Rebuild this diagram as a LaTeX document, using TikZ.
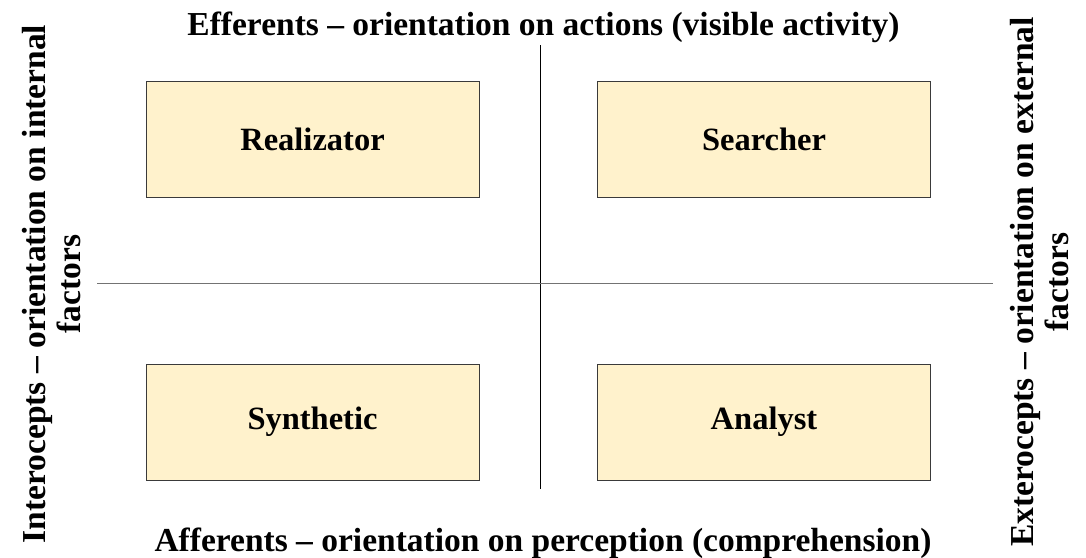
\documentclass[tikz,border=0pt]{standalone}
\usepackage{fontspec}
\setmainfont{Liberation Serif}
\usetikzlibrary{positioning}

\definecolor{boxfill}{HTML}{FFF2CC}
\definecolor{boxline}{HTML}{3A3A3A}

\begin{document}
\begin{tikzpicture}[
x=1pt, y=-1pt,
every node/.style={font=\bfseries\fontsize{33.5}{35}\selectfont},
box/.style={draw=boxline, fill=boxfill, line width=1pt, minimum width=333pt, minimum height=116pt, inner sep=0pt, font=\bfseries\fontsize{32.5}{35}\selectfont},
axis/.style={line width=1pt},
]
\useasboundingbox (0,0) rectangle (1086,557);

% quadrants
\node[box] (realizator) at (312.5,139) {Realizator};
\node[box] (searcher) at (764,139) {Searcher};
\node[box] (synthetic) at (312.5,422) {Synthetic};
\node[box] (analyst) at (764,422) {Analyst};

% axes
\coordinate (top) at (540,45);
\coordinate (bottom) at (540,489);
\coordinate (left) at (97,283);
\coordinate (right) at (993,283);
\draw[axis, black] (top) -- (bottom);
\draw[axis, black!55] (left) -- (right);

% axis labels
\node[anchor=base] (efferents) at (543.5,35) {Efferents -- orientation on actions (visible activity)};
\node[anchor=base] (afferents) at (543,551) {Afferents -- orientation on perception (comprehension)};
\node[rotate=90, align=center] (interocepts) at (52,284) {Interocepts -- orientation on internal\\factors};
\node[rotate=90, align=center] (exterocepts) at (1040,282) {Exterocepts -- orientation on external\\factors};

\end{tikzpicture}
\end{document}
